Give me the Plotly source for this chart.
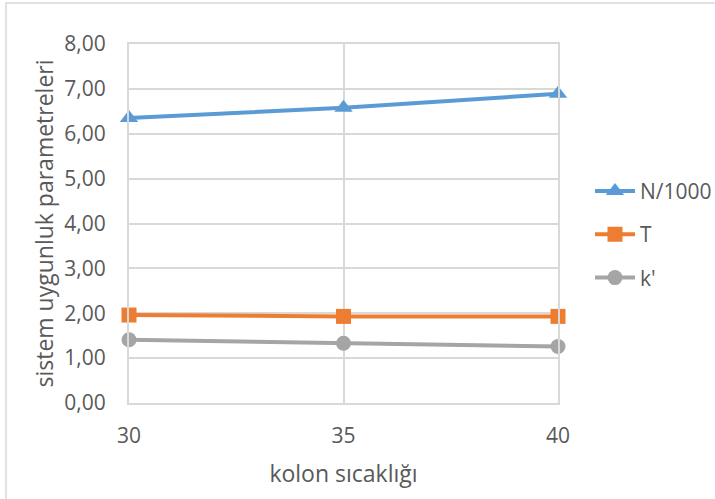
import plotly.graph_objects as go

# Column temperature (x) and system suitability parameters per series
temperatures = [30, 35, 40]
n_per_1000 = [6.35, 6.58, 6.89]
tailing = [1.96, 1.93, 1.93]
k_prime = [1.41, 1.33, 1.26]

series_names = ["N/1000", "T", "k'"]
series_colors = ["#5B9BD5", "#ED7D31", "#A5A5A5"]
series_symbols = ["triangle-up", "square", "circle"]
y_ticks = [0, 1, 2, 3, 4, 5, 6, 7, 8]

W, H = 715, 499
L, R, T, B = 129, 558, 44, 403.5

fig = go.Figure()
for i, (name, vals) in enumerate(zip(series_names, [n_per_1000, tailing, k_prime])):
    fig.add_trace(go.Scatter(
        x=temperatures, y=vals, name=name, mode="lines+markers",
        line=dict(color=series_colors[i], width=4),
        marker=dict(symbol=series_symbols[i], size=15 if i != 0 else 16,
                    color=series_colors[i]),
        cliponaxis=False, legendgroup=f"g{i}",
    ))

def px_x(p):
    return (p - L) / (R - L)

def px_y(p):
    return (B - p) / (B - T)

text_color = "#595959"
grid = "#D9D9D9"
fig.update_layout(
    width=W, height=H,
    margin=dict(l=L, r=W - R, t=T, b=H - B, pad=0, autoexpand=False),
    paper_bgcolor="white", plot_bgcolor="white",
    separators=",.",
    font=dict(family="Open Sans", color=text_color, size=21),
    xaxis=dict(
        range=[30, 40], tickvals=temperatures, ticktext=[str(t) for t in temperatures],
        showgrid=True, gridcolor=grid, gridwidth=2,
        showline=True, mirror=True, linecolor=grid, linewidth=2,
        zeroline=False,
        ticks="outside", ticklen=13, tickcolor="rgba(0,0,0,0)",
        tickfont=dict(size=21, color=text_color),
        title=dict(text="kolon sıcaklığı", font=dict(size=23, color=text_color), standoff=18),
    ),
    yaxis=dict(
        range=[0, 8], tickvals=y_ticks, tickformat=".2f",
        showgrid=True, gridcolor=grid, gridwidth=2,
        showline=True, mirror=True, linecolor=grid, linewidth=2,
        zeroline=False,
        ticks="outside", ticklen=17, tickcolor="rgba(0,0,0,0)",
        tickfont=dict(size=21, color=text_color),
        title=dict(text="sistem uygunluk parametreleri", font=dict(size=23, color=text_color), standoff=4),
    ),
    legend=dict(
        x=px_x(590), y=px_y(171), xanchor="left", yanchor="top",
        font=dict(size=21, color=text_color),
        tracegroupgap=13, itemwidth=40, bgcolor="rgba(0,0,0,0)",
    ),
    shapes=[dict(
        type="rect", xref="paper", yref="paper",
        x0=px_x(6), x1=px_x(W + 5), y0=px_y(H + 5), y1=px_y(3),
        line=dict(color=grid, width=1.5), layer="below",
    )],
)

fig.write_html("out.html")
